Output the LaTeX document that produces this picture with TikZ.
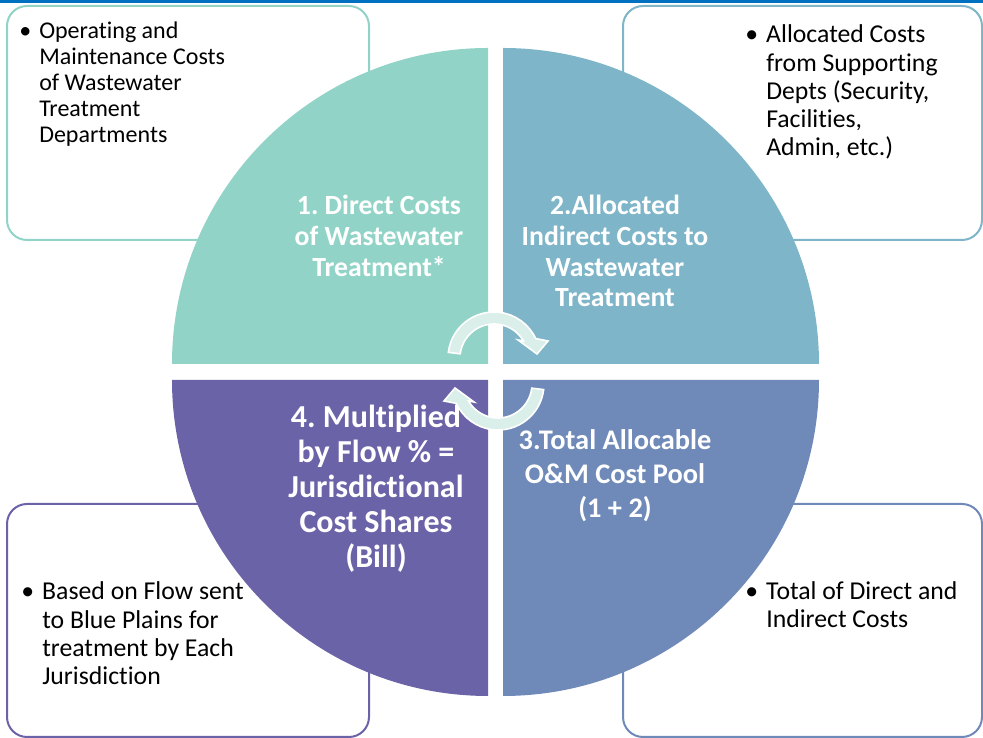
\documentclass[tikz,border=0pt]{standalone}
\usepackage{fontspec}
\setmainfont{Carlito}[Ligatures=NoCommon]
\frenchspacing
\definecolor{topblue}{HTML}{0070C0}
\definecolor{teal1}{HTML}{91D4C7}
\definecolor{blue2}{HTML}{7EB5C8}
\definecolor{slate3}{HTML}{6F8AB9}
\definecolor{violet4}{HTML}{6B63A8}
\definecolor{arrowfill}{HTML}{DAEFEA}
\begin{document}
\begin{tikzpicture}[x=0.75pt, y=0.75pt]
\tikzset{box/.style = {line width=1.5pt, rounded corners=15pt}}
\tikzset{note/.style = {anchor=base west, inner sep=0pt, text=black}}
\tikzset{qtext/.style = {anchor=base, inner sep=0pt, text=white}}
\tikzset{cyclearrow/.style = {fill=arrowfill, draw=white, line width=1.2pt}}
\useasboundingbox (0,0) rectangle (983,738);
\fill[topblue] (0,735) rectangle (983,738);
% side boxes
\draw[box, draw=teal1] (7,498) rectangle (369,732);
\draw[box, draw=blue2] (623,498) rectangle (982,732);
\draw[box, draw=violet4] (7,1) rectangle (369,234);
\draw[box, draw=slate3] (623,1) rectangle (982,234);
\node[note, font=\fontsize{18}{19.5}\selectfont] (n1) at (39,699)
  {\begin{tabular}[t]{@{}l@{}}\llap{\textbullet\hspace{6pt}}Operating and\\Maintenance Costs\\of Wastewater\\Treatment\\Departments\end{tabular}};
\node[note, font=\fontsize{19.3}{21.1}\selectfont] (n2) at (766,695)
  {\begin{tabular}[t]{@{}l@{}}\llap{\textbullet\hspace{6pt}}Allocated Costs\\from Supporting\\Depts (Security,\\Facilities,\\Admin, etc.)\end{tabular}};
\node[note, font=\fontsize{19.3}{21.2}\selectfont] (n4) at (42,138)
  {\begin{tabular}[t]{@{}l@{}}\llap{\textbullet\hspace{6pt}}Based on Flow sent\\to Blue Plains for\\treatment by Each\\Jurisdiction\end{tabular}};
\node[note, font=\fontsize{19.3}{21}\selectfont] (n3) at (766,138)
  {\begin{tabular}[t]{@{}l@{}}\llap{\textbullet\hspace{6pt}}Total of Direct and\\Indirect Costs\end{tabular}};
% quarters of the circle
\fill[teal1] (488,374) -- (172,374) arc[start angle=180, end angle=90, radius=316] -- cycle;
\fill[blue2] (503,374) -- (503,690) arc[start angle=90, end angle=0, radius=316] -- cycle;
\fill[slate3] (503,358) -- (819,358) arc[start angle=0, end angle=-90, radius=316] -- cycle;
\fill[violet4] (488,358) -- (488,42) arc[start angle=270, end angle=180, radius=316] -- cycle;
\node[qtext, font=\bfseries\fontsize{20.8}{23.25}\selectfont] (q1) at (379,523)
  {\begin{tabular}[t]{@{}c@{}}1. Direct Costs\\of Wastewater\\Treatment*\end{tabular}};
\node[qtext, font=\bfseries\fontsize{20.8}{23}\selectfont] (q2) at (615,523)
  {\begin{tabular}[t]{@{}c@{}}2.Allocated\\Indirect Costs to\\Wastewater\\Treatment\end{tabular}};
\node[qtext, font=\bfseries\fontsize{21.3}{25.5}\selectfont] (q3) at (615,288)
  {\begin{tabular}[t]{@{}c@{}}3.Total Allocable\\O\&M Cost Pool\\(1 + 2)\end{tabular}};
\node[qtext, font=\bfseries\fontsize{24}{26.25}\selectfont] (q4) at (376,310)
  {\begin{tabular}[t]{@{}c@{}}4. Multiplied\\by Flow \% =\\Jurisdictional\\Cost Shares\\(Bill)\end{tabular}};
% circular arrows
\draw[cyclearrow, shift={(494,380)}] (173:46) arc[start angle=173, end angle=25, radius=46]
  -- (54,17) -- (43,4) -- (24,18) -- (30:34) arc[start angle=30, end angle=173, radius=34] -- cycle;
\draw[cyclearrow, shift={(498,354)}] (353:46) arc[start angle=353, end angle=205, radius=46]
  -- (-54,-17) -- (-43,-4) -- (-24,-18) -- (210:34) arc[start angle=210, end angle=353, radius=34] -- cycle;
\end{tikzpicture}
\end{document}
